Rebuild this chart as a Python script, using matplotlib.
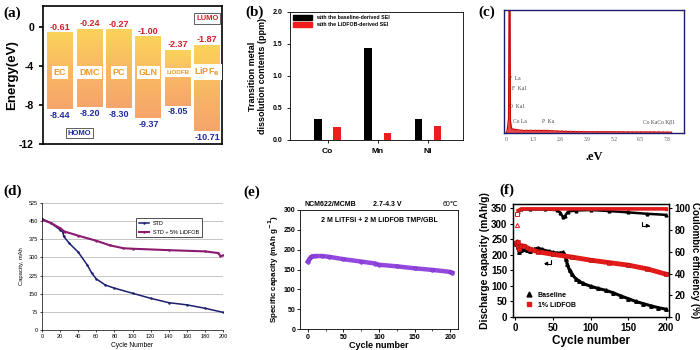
import numpy as np
import matplotlib
matplotlib.use("Agg")
import matplotlib.pyplot as plt
from matplotlib.colors import LinearSegmentedColormap
from matplotlib.patches import Patch
from matplotlib.lines import Line2D

plt.rcParams['font.family'] = ['Liberation Sans', 'DejaVu Sans']
plt.rcParams['font.weight'] = 'bold'
plt.rcParams['axes.labelweight'] = 'bold'

# ---- (a) HOMO / LUMO energies
solvents = ["EC", "DMC", "PC", "GLN", "LiODFB", "LiPF$_6$"]
lumo = [-0.61, -0.24, -0.27, -1.00, -2.37, -1.87]
homo = [-8.44, -8.20, -8.30, -9.37, -8.05, -10.71]

# ---- (b) transition metal dissolution
metals = ["Co", "Mn", "Ni"]
tm_baseline = [0.33, 1.43, 0.33]
tm_lidfob = [0.21, 0.11, 0.22]

# ---- (c) EDS spectrum
eds_kev = [0.0, 0.05, 0.08, 0.12, 0.15, 0.18, 0.21, 0.25, 0.3, 0.4, 0.6, 0.8, 1.0, 1.5, 2.0, 2.5, 3.0, 4.0, 5.0, 6.0, 7.0, 8.0]
eds_counts = [0, 2, 6, 12, 130, 140, 10, 5, 3, 3, 2.5, 2, 2, 2, 2, 1.5, 1.2, 1, 1, 0.8, 0.8, 0.6]

# ---- (d) capacity vs cycle
d_cyc_std = [0, 10, 20, 23, 24, 30, 40, 50, 55, 60, 70, 80, 100, 120, 140, 160, 180, 200]
d_cap_std = [460, 442, 414, 405, 387, 359, 322, 269, 235, 211, 186, 173, 152, 131, 113, 104, 90, 73]
d_cyc_dfob = [0, 10, 20, 25, 40, 60, 75, 90, 100, 140, 180, 195, 197, 200]
d_cap_dfob = [456, 442, 421, 407, 390, 369, 350, 338, 336, 330, 325, 318, 306, 308]

# ---- (e) specific capacity
e_cyc = [0, 2, 4, 6, 10, 20, 30, 50, 75, 95, 100, 125, 150, 175, 200, 203]
e_cap = [170, 176, 181, 183, 184, 184, 182, 176, 170, 165, 162, 158, 153, 149, 144, 142]

# ---- (f) discharge capacity and CE
f_cyc_base = [1, 3, 5, 8, 12, 16, 20, 25, 30, 35, 40, 45, 50, 55, 60, 63, 65, 67, 69, 72, 75, 80, 85, 90, 100, 110, 120, 130, 140, 150, 160, 170, 180, 190, 200]
f_cap_base = [235, 225, 210, 215, 218, 215, 212, 218, 222, 218, 214, 211, 208, 206, 206, 208, 202, 188, 170, 150, 138, 124, 115, 108, 99, 92, 86, 78, 68, 59, 50, 43, 36, 30, 25]
f_cyc_dfob = [1, 3, 5, 8, 12, 20, 30, 50, 75, 100, 125, 150, 175, 200]
f_cap_dfob = [238, 242, 218, 230, 228, 218, 210, 202, 193, 183, 175, 167, 155, 138]
f_ce_cyc_base = [2, 4, 8, 20, 40, 55, 60, 63, 66, 70, 80, 100, 125, 150, 175, 200]
f_ce_base = [85, 97, 99, 99, 99, 98.5, 96, 92, 93, 97, 98, 98.5, 97.5, 96.3, 95, 94]
f_ce_cyc_dfob = [2, 4, 8, 50, 100, 150, 200]
f_ce_dfob = [95, 98, 99.5, 99.5, 99.5, 99.5, 99.5]

fig = plt.figure(figsize=(7, 3.5), dpi=100)


def rect(l, t, r, b):
    return [l / 700, 1 - b / 350, (r - l) / 700, (b - t) / 350]


def tag(x, y, s):
    fig.text(x / 700, 1 - y / 350, s, family='Liberation Serif', fontsize=11,
             weight='bold', va='center', ha='left')


# ================= (a)
ax = fig.add_axes(rect(43, 6, 222, 144))
cmap = LinearSegmentedColormap.from_list("yo", ["#fbd35a", "#f9b864", "#f6a56b"])
grad = np.linspace(0, 1, 100).reshape(-1, 1)
w = 0.88
for i, name in enumerate(solvents):
    ax.imshow(grad, cmap=cmap, aspect='auto',
              extent=(i - w / 2, i + w / 2, homo[i], lumo[i]), zorder=1)
    ax.text(i, lumo[i] + 0.15, f"{lumo[i]:.2f}", color="#d0202a", ha='center',
            va='bottom', fontsize=6.5)
    ax.text(i, homo[i] - 0.15, f"{homo[i]:.2f}", color="#1f2a9c", ha='center',
            va='top', fontsize=6.5)
    fs = 4.5 if name == "LiODFB" else 6.5
    ax.text(i, -4.6, name, color="#ee9a2c", ha='center', va='center', fontsize=fs,
            bbox=dict(facecolor='white', edgecolor='none', pad=1.5), zorder=3)
ax.text(5.0, 0.9, "LUMO", color="#d0202a", fontsize=5.5, ha='center', va='center',
        bbox=dict(facecolor='white', edgecolor='#444444', lw=0.6, pad=1.2))
ax.text(0.65, -10.9, "HOMO", color="#1f2a9c", fontsize=5.5, ha='center', va='center',
        bbox=dict(facecolor='white', edgecolor='#444444', lw=0.6, pad=1.2))
ax.set_xlim(-0.58, 5.5)
ax.set_ylim(-12, 2.2)
ax.set_yticks([0, -4, -8, -12])
ax.set_yticklabels(["0", "-4", "-8", "-12"])
ax.set_xticks([])
ax.tick_params(axis='y', labelsize=7.5, width=1.2, length=3)
ax.set_ylabel("Energy(eV)", fontsize=9.5, labelpad=1)
for s in ax.spines.values():
    s.set_linewidth(1.2)
tag(3, 13, "(a)")

# ================= (b)
ax = fig.add_axes(rect(290, 12, 463, 140))
x = np.arange(len(metals))
ax.bar(x - 0.19, tm_baseline, width=0.15, color='black')
ax.bar(x + 0.19, tm_lidfob, width=0.15, color='#ee1c1c')
ax.set_xlim(-0.75, 2.7)
ax.set_ylim(0, 2.0)
ax.set_xticks(x)
ax.set_xticklabels(metals)
ax.set_yticks([0, 0.5, 1.0, 1.5, 2.0])
ax.set_yticklabels(["0.0", "0.5", "1.0", "1.5", "2.0"])
ax.tick_params(axis='y', labelsize=5, length=2, width=0.6)
ax.tick_params(axis='x', labelsize=6, length=2, width=0.6)
ax.set_ylabel("Transition metal\ndissolution contents (ppm)", fontsize=6.5, labelpad=4)
handles = [Patch(color='black'), Patch(color='#ee1c1c')]
ax.legend(handles, ["with the baseline-derived SEI", "with the LiDFOB-derived SEI"],
          loc='upper left', fontsize=3.8, frameon=False, handlelength=3.5,
          handleheight=1.0, borderaxespad=0.2, labelspacing=0.3)
for s in ax.spines.values():
    s.set_linewidth(0.6)
tag(245, 12, "(b)")

# ================= (c)
ax = fig.add_axes(rect(504, 10, 684, 133))
ax.fill_between(eds_kev, eds_counts, color='#e84848', lw=0)
ax.plot(eds_kev, eds_counts, color='#c80808', lw=0.9)
ax.plot(eds_kev[8:], eds_counts[8:], ls=':', color='#e03030', lw=1.2)
ax.set_xlim(-0.1, 8.6)
ax.set_ylim(0, 100)
ax.set_yticks([])
ax.set_xticks([0, 1.3, 2.6, 3.9, 5.2, 6.5, 7.8])
ax.set_xticklabels(["0", "1.3", "2.6", "3.9", "5.2", "6.5", "7.8"])
ax.tick_params(axis='x', labelsize=4, length=0, pad=3, labelcolor='#555555')
for lab in ax.get_xticklabels():
    lab.set_family('Liberation Serif')
    lab.set_weight('normal')
for s in ax.spines.values():
    s.set_color('#1c1c6c')
    s.set_linewidth(1.0)
el_labels = [(0.12, 0.43, "F  La"), (0.3, 0.35, "F  Ka1"), (0.12, 0.2, "O  Ka1"),
             (0.35, 0.08, "Co La"), (1.75, 0.08, "P  Ka"), (6.6, 0.07, "Co KaCo K\u03b21")]
for ex, ey, s in el_labels:
    ax.text(ex, ey, s, transform=ax.get_xaxis_transform(), fontsize=4,
            family='Liberation Serif', weight='normal', color='#444444')
ax.set_xlabel(".eV", family='Liberation Serif', fontsize=9, labelpad=6)
tag(478, 12, "(c)")

# ================= (d)
ax = fig.add_axes(rect(42, 203, 223, 330))
ax.plot(d_cyc_std, d_cap_std, color='#1b1f6e', lw=1.1, marker='.', markersize=1.5,
        label="STD")
ax.plot(d_cyc_dfob, d_cap_dfob, color='#8c1a6e', lw=1.5, marker='.', markersize=1.5,
        label="STD + 5% LiDFOB")
ax.set_xlim(0, 200)
ax.set_ylim(0, 525)
ax.set_xticks(range(0, 201, 20))
ax.set_yticks(range(0, 526, 75))
ax.yaxis.grid(True, color='#bbbbbb', lw=0.6)
ax.set_axisbelow(True)
ax.tick_params(labelsize=4, length=1.5, width=0.5, pad=1.5)
for lab in ax.get_xticklabels() + ax.get_yticklabels():
    lab.set_weight('normal')
ax.set_ylabel("Capacity, mAh", fontsize=4.2, weight='normal', labelpad=3)
ax.set_xlabel("Cycle Number", fontsize=4.8, weight='normal', labelpad=2)
ax.spines['top'].set_visible(False)
ax.spines['right'].set_visible(False)
for s in ('left', 'bottom'):
    ax.spines[s].set_linewidth(0.5)
leg = ax.legend(loc='upper right', bbox_to_anchor=(0.9, 0.9), fontsize=4,
                frameon=True, fancybox=False, edgecolor='black', handlelength=1.8,
                borderpad=0.5, labelspacing=0.6)
leg.get_frame().set_linewidth(0.6)
for t in leg.get_texts():
    t.set_weight('normal')
tag(3, 191, "(d)")

# ================= (e)
ax = fig.add_axes(rect(300, 210, 458, 329))
ax.plot(e_cyc, e_cap, color='#9348e0', lw=3.2, marker='o', markersize=2.5,
        markerfacecolor='#9348e0', markeredgecolor='#7a30c8', markeredgewidth=0.5)
ax.set_xlim(-11, 211)
ax.set_ylim(0, 300)
ax.set_xticks([0, 50, 100, 150, 200])
ax.set_xticks([25, 75, 125, 175], minor=True)
ax.set_yticks(range(0, 301, 50))
ax.tick_params(labelsize=5, length=2, width=0.6, pad=1.5)
ax.tick_params(which='minor', length=1.5, width=0.5)
ax.set_xlabel("Cycle number", fontsize=6.5, labelpad=0)
ax.set_ylabel("Specific capacity (mAh g$^{\\mathbf{-1}}$)", fontsize=5.8, labelpad=2)
ax.text(0.5, 0.9, "2 M LiTFSI + 2 M LiDFOB TMP/GBL", transform=ax.transAxes,
        ha='center', fontsize=5)
ax.text(0.03, 1.015, "NCM622/MCMB", transform=ax.transAxes, ha='left', va='bottom', fontsize=5)
ax.text(0.55, 1.015, "2.7-4.3 V", transform=ax.transAxes, ha='center', va='bottom', fontsize=5)
ax.text(1.0, 1.015, "60\u2103", transform=ax.transAxes, ha='right', va='bottom', fontsize=5,
        weight='normal')
for s in ax.spines.values():
    s.set_linewidth(0.6)
tag(243, 192, "(e)")

# ================= (f)
ax = fig.add_axes(rect(513, 204, 669, 317))
ax2 = ax.twinx()
ax.plot(f_cyc_base, f_cap_base, color='black', lw=2.2, marker='^', markersize=2.5)
ax.plot(f_cyc_dfob, f_cap_dfob, color='#e31a1a', lw=3.5, marker='s', markersize=2.5,
        markeredgecolor='#b01010', markeredgewidth=0.4)
ax2.plot(f_ce_cyc_base[1:], f_ce_base[1:], color='black', lw=1.8, marker='^', markersize=2)
ax2.plot(f_ce_cyc_dfob[1:], f_ce_dfob[1:], color='#e31a1a', lw=2.6, marker='s', markersize=2)
ax2.plot(f_ce_cyc_base[0], f_ce_base[0], ls='none', marker='^', markersize=3,
         markerfacecolor='white', markeredgecolor='#e31a1a', markeredgewidth=0.7)
ax2.plot(f_ce_cyc_dfob[0], f_ce_dfob[0], ls='none', marker='s', markersize=3,
         markerfacecolor='white', markeredgecolor='#e31a1a', markeredgewidth=0.7)
ax.set_xlim(-3, 204)
ax.set_ylim(0, 364)
ax2.set_ylim(0, 104)
ax.set_xticks([0, 50, 100, 150, 200])
ax.set_yticks(range(0, 351, 50))
ax2.set_yticks(range(0, 101, 20))
ax.tick_params(labelsize=7, length=2.5, width=0.8, pad=1.5)
ax2.tick_params(labelsize=7, length=2.5, width=0.8, pad=1.5)
ax.set_xlabel("Cycle number", fontsize=8.5, labelpad=2)
ax.set_ylabel("Discharge capacity (mAh/g)", fontsize=7.5, labelpad=1)
ax2.set_ylabel("Coulombic efficiency (%)", fontsize=7, rotation=270, labelpad=7)
ax.annotate('', xy=(34, 172), xytext=(48, 192),
            arrowprops=dict(arrowstyle='-|>', color='black', lw=0.8,
                            connectionstyle='angle,angleA=90,angleB=0,rad=0',
                            mutation_scale=5))
ax2.annotate('', xy=(183, 84), xytext=(168, 90),
             arrowprops=dict(arrowstyle='-|>', color='black', lw=0.8,
                             connectionstyle='angle,angleA=90,angleB=0,rad=0',
                             mutation_scale=5))
fh = [Line2D([], [], color='black', marker='^', ls='none', markersize=3.5),
      Line2D([], [], color='#e31a1a', marker='s', ls='none', markersize=3.5)]
ax.legend(fh, ["Baseline", "1% LiDFOB"], loc='lower left', bbox_to_anchor=(0.04, 0.05),
          fontsize=5, frameon=False, handletextpad=0.3, labelspacing=0.4, borderaxespad=0)
for a in (ax, ax2):
    for s in a.spines.values():
        s.set_linewidth(0.9)
tag(499, 190, "(f)")

fig.savefig("out.png", dpi=100)
